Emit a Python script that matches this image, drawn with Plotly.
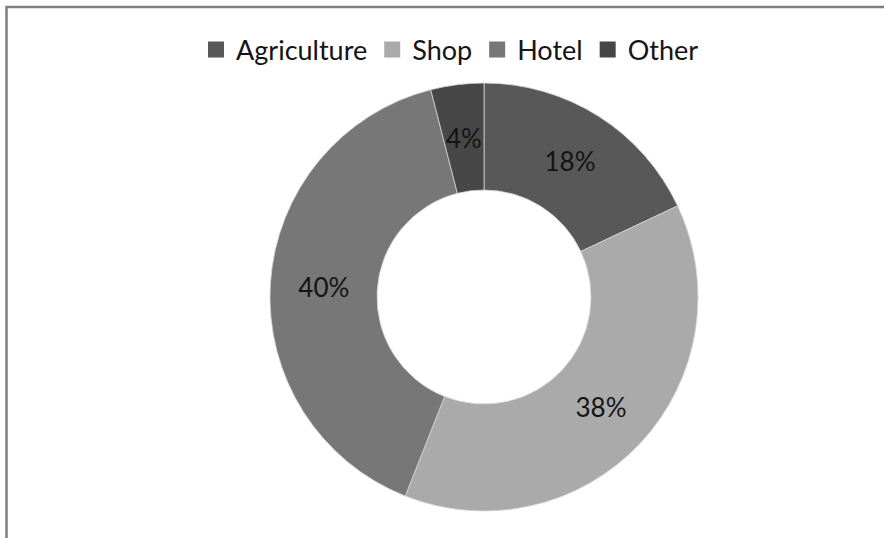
import math
import plotly.graph_objects as go

categories = ["Agriculture", "Shop", "Hotel", "Other"]
values = [18, 38, 40, 4]
colors = ["#585858", "#aaaaaa", "#777777", "#474747"]

W, H = 884, 538
cx, cy, R = 484, 297, 214
HOLE = 0.5
FONT = "Lato"

total = sum(values)
# slices that are too narrow for plotly's inside text get an annotation at mid-ring
inside_text = [f"{v}%" if v >= 10 else "" for v in values]

fig = go.Figure()
fig.add_trace(go.Pie(
    labels=categories,
    values=values,
    hole=HOLE,
    sort=False,
    direction="clockwise",
    rotation=0,
    marker=dict(colors=colors, line=dict(color="#d4d4d4", width=0.8)),
    text=inside_text,
    texttemplate="%{text}",
    textposition="inside",
    insidetextorientation="horizontal",
    textfont=dict(family=FONT, size=26, color="#141414"),
    domain=dict(x=[(cx - R) / W, (cx + R) / W], y=[1 - (cy + R) / H, 1 - (cy - R) / H]),
    hoverinfo="label+percent",
    showlegend=False,
))

# legend entries with square swatches
for name, col in zip(categories, colors):
    fig.add_trace(go.Scatter(
        x=[None], y=[None], mode="markers", name=name,
        marker=dict(symbol="square", size=16, color=col),
        showlegend=True, hoverinfo="skip",
    ))

annotations = []
cum = 0
for v in values:
    if v < 10:
        theta = math.radians((cum + v / 2) / total * 360)
        r = R * (1 + HOLE) / 2
        px = cx + r * math.sin(theta)
        py = cy - r * math.cos(theta)
        annotations.append(dict(
            x=px / W, y=1 - py / H, xref="paper", yref="paper",
            xanchor="center", yanchor="middle",
            text=f"{v}%", showarrow=False,
            font=dict(family=FONT, size=26, color="#141414"),
        ))
    cum += v

fig.update_layout(
    width=W, height=H,
    margin=dict(l=0, r=0, t=0, b=0),
    paper_bgcolor="white",
    plot_bgcolor="white",
    xaxis=dict(visible=False),
    yaxis=dict(visible=False),
    showlegend=True,
    legend=dict(
        orientation="h",
        x=450 / W, xanchor="center",
        y=1 - 50 / H, yanchor="middle",
        font=dict(family=FONT, size=27, color="#141414"),
        traceorder="normal",
    ),
    annotations=annotations,
    shapes=[dict(
        type="rect", xref="paper", yref="paper",
        x0=6.5 / W, x1=1.05, y0=-0.05, y1=1 - 7 / H,
        line=dict(color="#7f7f7f", width=2.5),
        fillcolor="rgba(0,0,0,0)",
    )],
)

fig.write_html("out.html")
